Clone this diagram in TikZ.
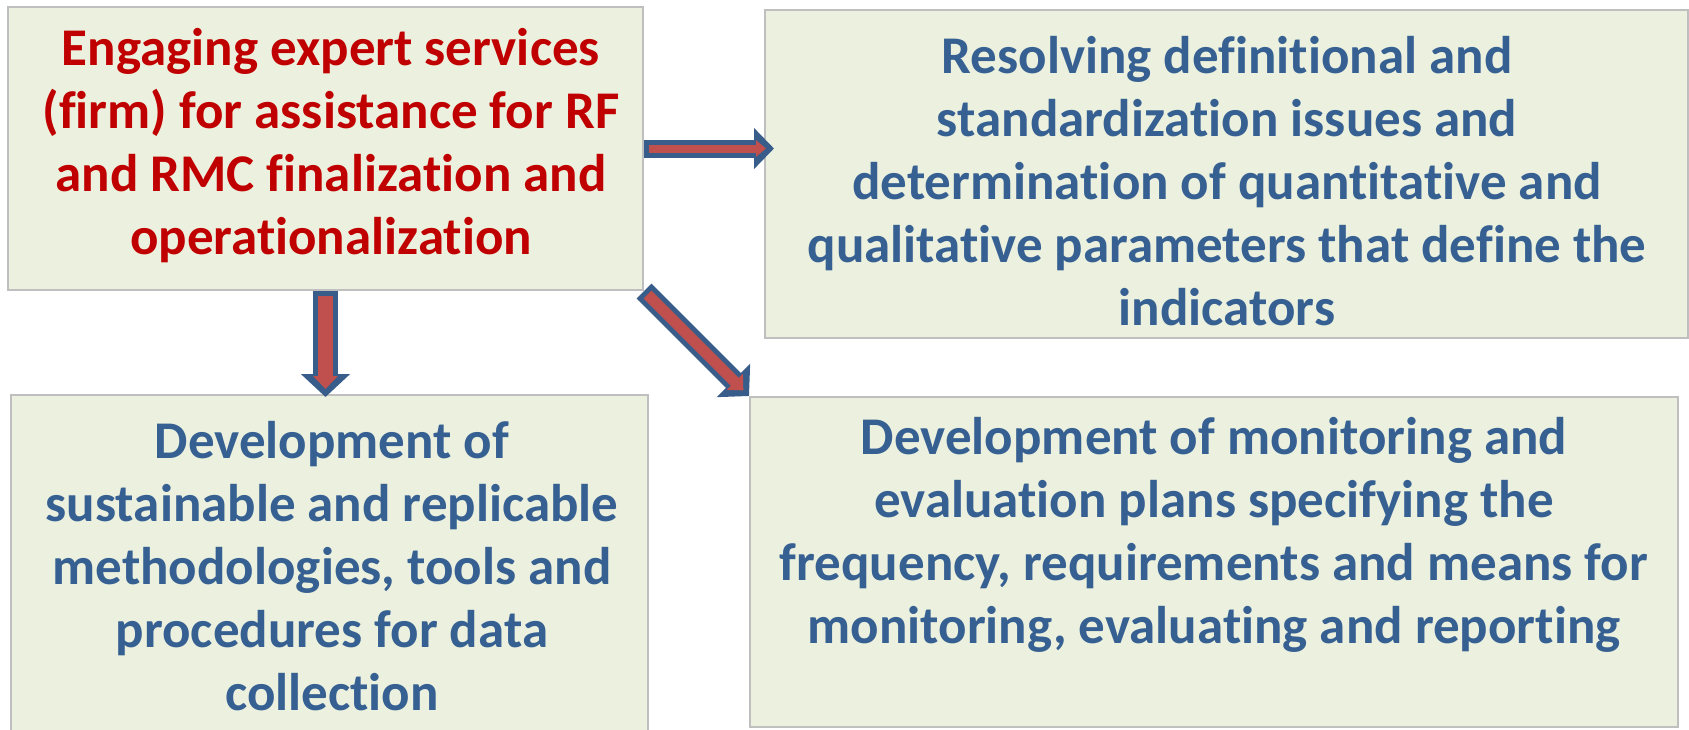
\documentclass[tikz,border=0pt]{standalone}
\usepackage{fontspec}
\setmainfont[Ligatures={NoCommon}]{Carlito}
\usetikzlibrary{arrows.meta}
\definecolor{boxfill}{HTML}{EBF1DE}
\definecolor{boxline}{HTML}{BFBFBF}
\definecolor{headred}{HTML}{C00000}
\definecolor{bodyblue}{HTML}{376092}
\definecolor{arrowred}{HTML}{C0504D}
\definecolor{arrowblue}{HTML}{385D8A}
\tikzset{
  box/.style={draw=boxline, fill=boxfill, line width=2pt, inner sep=0pt},
  boxtext/.style={font=\bfseries\fontsize{53}{63}\selectfont, align=center, inner sep=0pt, text=bodyblue},
  blockout/.style n args={3}{draw=arrowblue, line width=#1, -{Triangle[length=#3, width=#2]}},
  blockin/.style n args={3}{draw=arrowred, line width=#1, -{Triangle[length=#3, width=#2]}, shorten <=5pt, shorten >=8pt}
}
\begin{document}
\begin{tikzpicture}[x=1pt, y=-1pt]
  \clip (0,0) rectangle (1689,729);
  % boxes, pixel coordinates from the top left corner
  \node[box, minimum width=635pt, minimum height=283pt] (engage) at (325.5,148.5) {};
  \node[box, minimum width=923pt, minimum height=328pt] (resolve) at (1226.5,174) {};
  \node[box, minimum width=637pt, minimum height=365pt] (develop) at (329.5,577.5) {};
  \node[box, minimum width=928pt, minimum height=330pt] (monitor) at (1214,562) {};
  \node[boxtext, text=headred] (engagetext) at (331,146) {Engaging expert services\\(firm) for assistance for RF\\and RMC finalization and\\operationalization};
  \node[boxtext] (resolvetext) at (1227,181) {Resolving definitional and\\standardization issues and\\determination of quantitative and\\qualitative parameters that define the\\indicators};
  \node[boxtext] (developtext) at (332,566) {Development of\\sustainable and replicable\\methodologies, tools and\\procedures for data\\collection};
  \node[boxtext] (monitortext) at (1214,535) {Development of monitoring and\\evaluation plans specifying the\\frequency, requirements and means for\\monitoring, evaluating and reporting};
  % block arrows: blue outline first, red body on top
  \draw[blockout={18pt}{40pt}{20pt}] (engage.east) -- ([xshift=10pt]engage.east -| resolve.west);
  \draw[blockin={8pt}{16pt}{10pt}] (engage.east) -- ([xshift=10pt]engage.east -| resolve.west);
  \draw[blockout={25pt}{48pt}{23pt}] (engage.south) -- ([yshift=-3pt]engage.south |- develop.north);
  \draw[blockin={15pt}{24pt}{13pt}] (engage.south) -- ([yshift=-3pt]engage.south |- develop.north);
  \draw[blockout={21pt}{46pt}{22pt}] (engage.south east) -- (monitor.north west);
  \draw[blockin={11pt}{22pt}{12pt}] (engage.south east) -- (monitor.north west);
\end{tikzpicture}
\end{document}
